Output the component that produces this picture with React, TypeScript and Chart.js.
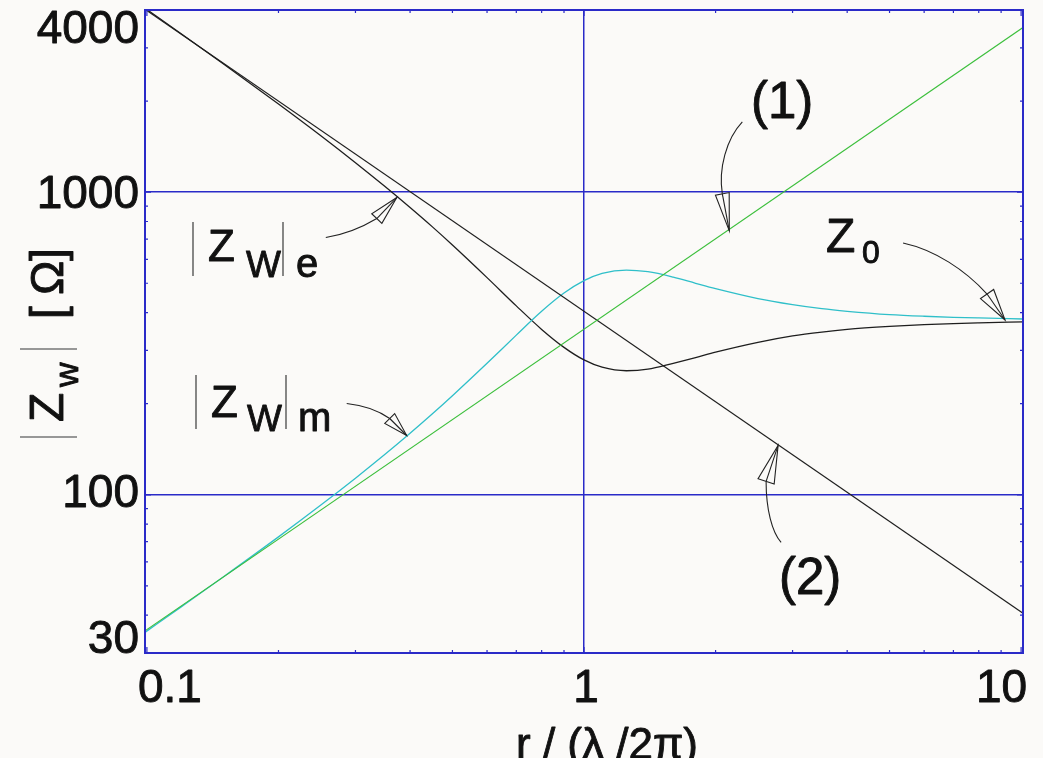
import { useEffect, useRef } from "react";
import { Chart, registerables } from "chart.js";

Chart.register(...registerables);

// Distance from the dipole, normalised to lambda / 2pi
const rPoints = [
  0.099, 0.12, 0.15, 0.2, 0.25, 0.3, 0.35, 0.4, 0.45, 0.5, 0.6, 0.7, 0.8, 0.9, 1.0,
  1.1, 1.25, 1.4, 1.6, 1.8, 2.0, 2.5, 3, 3.5, 4, 5, 6, 7, 8, 10.1,
];
// |Zw|e : wave impedance of the electric dipole field (ohm)
const zwElectric = [
  4055, 3333, 2648, 1957, 1537, 1252, 1046, 890, 768, 669, 522, 421, 352, 307, 279,
  264, 257, 260, 272, 284, 296, 319, 335, 345, 352, 360, 365, 368, 370, 373,
];
// |Zw|m : wave impedance of the magnetic dipole field (ohm)
const zwMagnetic = [
  35.1, 42.7, 53.7, 72.6, 92.5, 113.5, 135.8, 159.7, 185.2, 212.5, 272, 337, 404, 464, 510,
  539, 553, 546, 524, 500, 480, 445, 425, 412, 404, 394, 389, 386, 384, 381,
];
// Near-field asymptotes
const asymptoteR = [0.099, 10.1];
const asymptoteOne = [35.5, 3500]; // (1) rising with r
const asymptoteTwo = [4020, 40.6]; // (2) falling with r

const xTickValues = [0.1, 1, 10];
const xTickLabels = ["0.1", "1", "10"];
const yTickValues = [30, 100, 1000, 4000];
const yTickLabels = ["30", "100", "1000", "4000"];
const xGridValues = [1];
const yGridValues = [100, 1000];

const X_MIN = 0.099;
const X_MAX = 10.1;
const Y_MIN = 30;
const Y_MAX = 4000;

const BG = "#fbfaf8";
const BLUE = "#2a2ac8";
const INK = "#111111";
const FONT = '"Liberation Sans", Arial, Helvetica, sans-serif';

function minorValues(lo: number, hi: number): number[] {
  const out: number[] = [];
  for (let e = -2; e <= 4; e++) {
    for (let m = 1; m <= 9; m++) {
      const v = m * Math.pow(10, e);
      if (v >= lo * 0.999 && v <= hi * 1.001) out.push(v);
    }
  }
  return out;
}

type Pt = [number, number];

function drawArrow(
  ctx: CanvasRenderingContext2D,
  tip: Pt,
  base: Pt,
  curve: Pt[],
  halfW: number
) {
  // curve: [start, c1, c2] leading into the arrowhead base, offsets from tip
  const [tx, ty] = tip;
  const bx = tx + base[0];
  const by = ty + base[1];
  ctx.save();
  ctx.strokeStyle = "#222";
  ctx.lineWidth = 1.1;
  ctx.beginPath();
  ctx.moveTo(tx + curve[0][0], ty + curve[0][1]);
  ctx.bezierCurveTo(
    tx + curve[1][0],
    ty + curve[1][1],
    tx + curve[2][0],
    ty + curve[2][1],
    bx,
    by
  );
  ctx.stroke();
  const dx = tx - bx;
  const dy = ty - by;
  const L = Math.hypot(dx, dy);
  const nx = -dy / L;
  const ny = dx / L;
  ctx.beginPath();
  ctx.moveTo(tx, ty);
  ctx.lineTo(bx + nx * halfW, by + ny * halfW);
  ctx.lineTo(bx - nx * halfW, by - ny * halfW);
  ctx.closePath();
  ctx.fillStyle = BG;
  ctx.fill();
  ctx.stroke();
  ctx.beginPath();
  ctx.moveTo(bx, by);
  ctx.lineTo(tx, ty);
  ctx.stroke();
  ctx.restore();
}

function bar(ctx: CanvasRenderingContext2D, x: number, y0: number, y1: number) {
  ctx.save();
  ctx.strokeStyle = "#555";
  ctx.lineWidth = 1.4;
  ctx.beginPath();
  ctx.moveTo(x, y0);
  ctx.lineTo(x, y1);
  ctx.stroke();
  ctx.restore();
}

function text(
  ctx: CanvasRenderingContext2D,
  s: string,
  x: number,
  y: number,
  size: number,
  align: CanvasTextAlign = "left"
) {
  ctx.font = `${size}px ${FONT}`;
  ctx.textAlign = align;
  ctx.textBaseline = "alphabetic";
  ctx.fillStyle = INK;
  ctx.fillText(s, x, y);
  // slightly heavier strokes than the regular face
  ctx.strokeStyle = INK;
  ctx.lineWidth = 0.9;
  ctx.lineJoin = "round";
  ctx.strokeText(s, x, y);
}

const framePlugin = {
  id: "frameAndNotes",
  beforeDraw(chart: any) {
    const ctx = chart.ctx as CanvasRenderingContext2D;
    ctx.save();
    ctx.fillStyle = BG;
    ctx.fillRect(0, 0, chart.width, chart.height);
    ctx.restore();
  },
  afterDraw(chart: any) {
    const ctx = chart.ctx as CanvasRenderingContext2D;
    const { left, right, top, bottom } = chart.chartArea;
    const xs = chart.scales.x;
    const ys = chart.scales.y;

    // frame
    ctx.save();
    ctx.strokeStyle = BLUE;
    ctx.lineWidth = 2;
    ctx.strokeRect(left, top, right - left, bottom - top);

    // inward minor / major ticks on all four sides
    ctx.lineWidth = 1.2;
    ctx.beginPath();
    for (const v of minorValues(X_MIN, X_MAX)) {
      const px = xs.getPixelForValue(v);
      const len = xTickValues.includes(v) ? 6 : 3;
      ctx.moveTo(px, bottom);
      ctx.lineTo(px, bottom - len);
      ctx.moveTo(px, top);
      ctx.lineTo(px, top + len);
    }
    for (const v of minorValues(Y_MIN, Y_MAX)) {
      const py = ys.getPixelForValue(v);
      const len = v === 100 || v === 1000 ? 6 : 3;
      ctx.moveTo(left, py);
      ctx.lineTo(left + len, py);
      ctx.moveTo(right, py);
      ctx.lineTo(right - len, py);
    }
    ctx.stroke();
    ctx.restore();

    ctx.save();
    // tick labels
    xTickValues.forEach((v, i) => {
      const px = xs.getPixelForValue(v);
      const align: CanvasTextAlign = i === 0 ? "left" : i === xTickValues.length - 1 ? "right" : "center";
      const dx = i === 0 ? -9 : i === xTickValues.length - 1 ? 6 : 2;
      text(ctx, xTickLabels[i], px + dx, bottom + 49, 46, align);
    });
    yTickValues.forEach((v, i) => {
      const py = ys.getPixelForValue(v);
      let base = py + 16;
      if (v === 100) base = py + 12;
      if (i === 0) base = bottom;
      if (i === yTickValues.length - 1) base = top + 33;
      text(ctx, yTickLabels[i], left - 6, base, 46, "right");
    });

    // axis titles
    text(ctx, "r / (\u03bb /2\u03c0)", 516, 759, 44, "left");

    // vertical title |Zw| [Ω], reading upwards
    ctx.save();
    ctx.translate(63, 437);
    ctx.rotate(-Math.PI / 2);
    ctx.strokeStyle = "#777";
    ctx.lineWidth = 1.4;
    ctx.beginPath();
    ctx.moveTo(0, -43);
    ctx.lineTo(0, 14);
    ctx.moveTo(88, -43);
    ctx.lineTo(88, 14);
    ctx.stroke();
    text(ctx, "Z", 15, 0, 48);
    text(ctx, "w", 50, 15, 34);
    text(ctx, "[", 118, 0, 46);
    text(ctx, "\u03a9", 142, 0, 46);
    text(ctx, "]", 176, 0, 46);
    ctx.restore();

    // curve labels
    bar(ctx, 193, 222, 276);
    text(ctx, "Z", 208, 261, 44);
    text(ctx, "W", 246, 277, 37);
    bar(ctx, 283, 222, 276);
    text(ctx, "e", 296, 277, 40);

    bar(ctx, 196, 375, 429);
    text(ctx, "Z", 211, 417, 44);
    text(ctx, "W", 247, 431, 37);
    bar(ctx, 286, 375, 429);
    text(ctx, "m", 298, 431, 40);

    text(ctx, "(1)", 751, 118, 51);
    text(ctx, "(2)", 779, 594, 51);
    text(ctx, "Z", 826, 252, 48);
    text(ctx, "0", 862, 263, 32);
    ctx.restore();

    // leader arrows, tips anchored on the curves
    const at = (r: number, z: number): Pt => [xs.getPixelForValue(r), ys.getPixelForValue(z)];
    drawArrow(ctx, at(2.15, 745), [-7, -37], [[13, -109], [-3, -92], [-11, -62]], 7);
    drawArrow(ctx, at(2.78, 145.6), [-12, 36], [[3, 97], [-6, 87], [-12, 64]], 8.5);
    drawArrow(ctx, at(9.19, 378), [-18, -26], [[-102, -77], [-70, -70], [-40, -50]], 8);
    drawArrow(ctx, at(0.373, 960), [-20, 21], [[-71, 40], [-52, 37], [-35, 30]], 7);
    drawArrow(ctx, at(0.393, 157), [-17, -17], [[-60, -32], [-41, -30], [-27, -24]], 7);
  },
};

export default function App() {
  const canvasRef = useRef<HTMLCanvasElement | null>(null);

  useEffect(() => {
    const canvas = canvasRef.current;
    if (!canvas) return;

    const pts = (ys: number[], xsArr: number[]) => xsArr.map((x, i) => ({ x, y: ys[i] }));

    const chart = new Chart(canvas, {
      type: "line",
      data: {
        datasets: [
          {
            label: "(1)",
            data: pts(asymptoteOne, asymptoteR),
            borderColor: "#3cbf3c",
            borderWidth: 1.2,
            tension: 0,
          },
          {
            label: "(2)",
            data: pts(asymptoteTwo, asymptoteR),
            borderColor: "#1e1e1e",
            borderWidth: 1.2,
            tension: 0,
          },
          {
            label: "|Zw|m",
            data: pts(zwMagnetic, rPoints),
            borderColor: "#2fbfc9",
            borderWidth: 1.3,
            cubicInterpolationMode: "monotone",
          },
          {
            label: "|Zw|e",
            data: pts(zwElectric, rPoints),
            borderColor: "#1e1e1e",
            borderWidth: 1.3,
            cubicInterpolationMode: "monotone",
          },
        ],
      },
      options: {
        animation: false,
        responsive: false,
        maintainAspectRatio: false,
        devicePixelRatio: 1,
        layout: { padding: { left: 145, top: 10, right: 20, bottom: 105 } },
        elements: { point: { radius: 0, hoverRadius: 0 } },
        plugins: { legend: { display: false }, tooltip: { enabled: false } },
        scales: {
          x: {
            type: "logarithmic",
            min: X_MIN,
            max: X_MAX,
            afterBuildTicks: (s: any) => {
              s.ticks = xGridValues.map((v) => ({ value: v }));
            },
            ticks: { display: false },
            border: { display: false },
            grid: { drawTicks: false, color: BLUE, lineWidth: 1.5 },
          },
          y: {
            type: "logarithmic",
            min: Y_MIN,
            max: Y_MAX,
            afterBuildTicks: (s: any) => {
              s.ticks = yGridValues.map((v) => ({ value: v }));
            },
            ticks: { display: false },
            border: { display: false },
            grid: { drawTicks: false, color: BLUE, lineWidth: 1.5 },
          },
        },
      },
      plugins: [framePlugin],
    });

    return () => chart.destroy();
  }, []);

  return (
    <div style={{ position: "fixed", left: 0, top: 0, width: 1043, height: 758, background: BG }}>
      <canvas ref={canvasRef} width={1043} height={758} style={{ display: "block" }} />
    </div>
  );
}
